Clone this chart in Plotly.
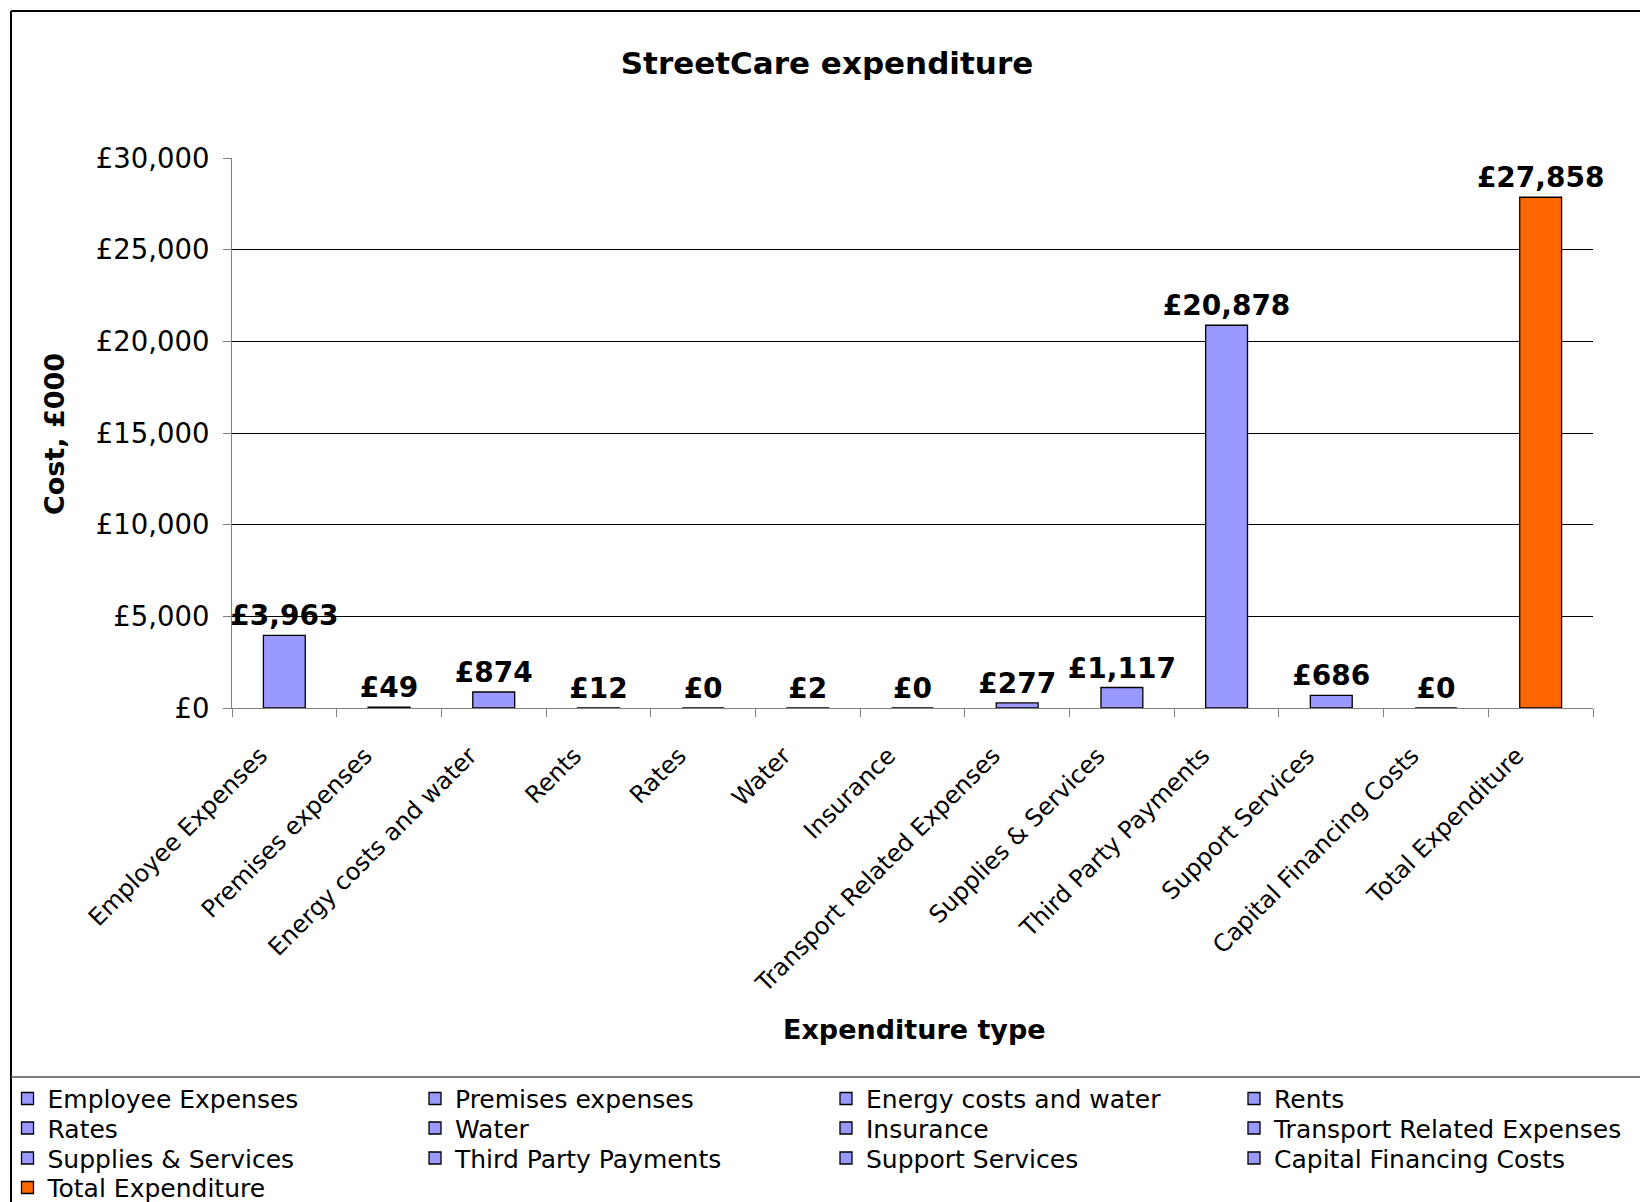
import plotly.graph_objects as go

categories = ["Employee Expenses", "Premises expenses", "Energy costs and water", "Rents",
              "Rates", "Water", "Insurance", "Transport Related Expenses",
              "Supplies & Services", "Third Party Payments", "Support Services",
              "Capital Financing Costs", "Total Expenditure"]
values = [3963, 49, 874, 12, 0, 2, 0, 277, 1117, 20878, 686, 0, 27858]
bar_colors = ["#9999FF"] * 12 + ["#FF6600"]
y_ticks = [0, 5000, 10000, 15000, 20000, 25000, 30000]
y_tick_text = ["£0", "£5,000", "£10,000", "£15,000", "£20,000", "£25,000", "£30,000"]

W, H = 1640, 1202
L, R, T, B = 232, 1593, 158, 708

FONT = "DejaVu Sans, Verdana, sans-serif"

# legend layout: 4 columns, row-major order
col_x = [7.5, 415, 826, 1234]
row_centers = [1098.5, 1128, 1158, 1187.5]
LEG_FONT = 25

fig = go.Figure()
legend_cfg = {}
for i, (c, v, col) in enumerate(zip(categories, values, bar_colors)):
    lname = "legend" if i == 0 else f"legend{i + 1}"
    fig.add_trace(go.Bar(
        x=[c], y=[v], name=c, width=0.4,
        marker=dict(color=col, line=dict(color="black", width=1.3)),
        texttemplate="£%{y:,}", textposition="outside", textangle=0,
        textfont=dict(family=FONT, size=28, color="black", weight="bold"),
        cliponaxis=False, constraintext="none",
        legend=lname,
    ))
    item_h = 1.3 * LEG_FONT + 3
    top = row_centers[i // 4] - (item_h / 2 + 5)
    legend_cfg[lname] = dict(
        xref="container", yref="container",
        x=col_x[i % 4] / W, y=1 - top / H,
        xanchor="left", yanchor="top",
        orientation="v", bgcolor="rgba(0,0,0,0)", borderwidth=0,
        font=dict(family=FONT, size=LEG_FONT, color="black"),
    )

def px_x(p):
    return (p - L) / (R - L)

def px_y(p):
    return (B - p) / (B - T)

shapes = [
    dict(type="line", xref="paper", yref="paper", x0=px_x(11), x1=px_x(1700),
         y0=px_y(11), y1=px_y(11), line=dict(color="black", width=2)),
    dict(type="line", xref="paper", yref="paper", x0=px_x(11), x1=px_x(11),
         y0=px_y(11), y1=px_y(1210), line=dict(color="black", width=2)),
    dict(type="line", xref="paper", yref="paper", x0=px_x(11), x1=px_x(1700),
         y0=px_y(1077), y1=px_y(1077), line=dict(color="#555555", width=1.5)),
]

annotations = [
    dict(text="<b>Cost, £000</b>", xref="paper", yref="paper",
         x=px_x(54), y=px_y(434), textangle=-90, showarrow=False,
         xanchor="center", yanchor="middle",
         font=dict(family=FONT, size=27, color="black")),
    dict(text="<b>Expenditure type</b>", xref="paper", yref="paper",
         x=px_x(914), y=px_y(1029), showarrow=False,
         xanchor="center", yanchor="middle",
         font=dict(family=FONT, size=27, color="black")),
]

fig.update_layout(
    width=W, height=H,
    margin=dict(l=L, r=W - R, t=T, b=H - B, autoexpand=False),
    paper_bgcolor="white", plot_bgcolor="white",
    barmode="overlay",
    showlegend=True,
    title=dict(text="<b>StreetCare expenditure</b>", xref="container", yref="container",
               x=827 / W, y=1 - 63 / H, xanchor="center", yanchor="middle",
               font=dict(family=FONT, size=31, color="black")),
    xaxis=dict(
        type="category", categoryorder="array", categoryarray=categories,
        tickangle=-45, tickson="boundaries", ticks="outside", ticklen=8,
        tickcolor="#808080", showline=True, linecolor="#808080", linewidth=1,
        showgrid=False, automargin=False,
        ticklabelstandoff=23, ticklabelshift=-24,
        tickfont=dict(family=FONT, size=24, color="black"),
    ),
    yaxis=dict(
        range=[0, 30000], tickvals=y_ticks, ticktext=y_tick_text,
        ticks="outside", ticklen=8, tickcolor="#808080",
        showline=True, linecolor="#808080", linewidth=1,
        showgrid=True, gridcolor="black", gridwidth=1, zeroline=False,
        automargin=False, ticklabelstandoff=8,
        tickfont=dict(family=FONT, size=27.5, color="black"),
    ),
    shapes=shapes,
    annotations=annotations,
    **legend_cfg,
)

fig.write_html("out.html")
